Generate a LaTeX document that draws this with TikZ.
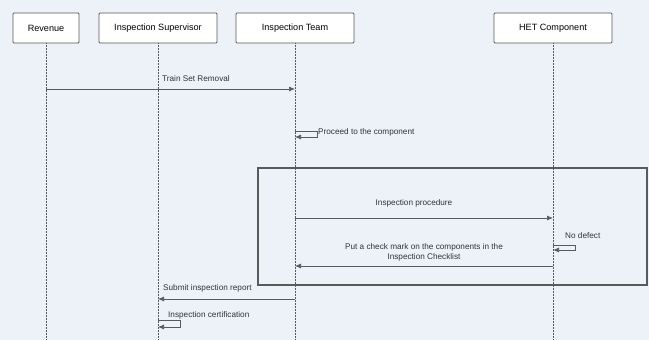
\documentclass[tikz,border=0pt]{standalone}
\usepackage{fontspec}
\setmainfont{Liberation Sans}
\usetikzlibrary{arrows.meta}
\definecolor{bgblue}{RGB}{237,241,248}
\definecolor{linegray}{RGB}{90,90,90}
\tikzset{
  actor/.style={draw=linegray, line width=0.9pt, fill=white, rounded corners=1pt,
    minimum height=30pt, inner sep=0pt, font=\fontsize{9.1}{11}\selectfont},
  lifeline/.style={densely dotted, linegray, line width=0.5pt},
  msg/.style={-{Latex[length=6pt,width=5pt]}, linegray, line width=0.7pt},
  lbl/.style={font=\fontsize{8.2}{9}\selectfont, text=black!80, inner sep=1pt}
}
\begin{document}
\begin{tikzpicture}[x=1pt,y=-1pt]
    % background
    \fill[bgblue] (0,0) rectangle (649,340);
    \useasboundingbox (0,0) rectangle (649,340);
    % actors
    \node[actor, minimum width=66pt] (rev) at (46,28) {Revenue};
    \node[actor, minimum width=118pt] (sup) at (158,28) {Inspection Supervisor};
    \node[actor, minimum width=118pt] (team) at (295,28) {Inspection Team};
    \node[actor, minimum width=118pt] (het) at (553,28) {HET Component};
    % lifelines
    \coordinate (revend) at (46,340);
    \coordinate (supend) at (158,340);
    \coordinate (teamend) at (295,340);
    \coordinate (hetend) at (553,340);
    \draw[lifeline] (rev.south) -- (revend);
    \draw[lifeline] (sup.south) -- (supend);
    \draw[lifeline] (team.south) -- (teamend);
    \draw[lifeline] (het.south) -- (hetend);
    % combined fragment
    \draw[linegray, line width=1.1pt] (258,168) rectangle (647,285);
    % train set removal
    \coordinate (rev1) at (46,89);
    \coordinate (team1) at (295,89);
    \draw[msg] (rev1) -- (team1);
    \node[lbl, anchor=west] (trainlbl) at (161,79) {Train Set Removal};
    % proceed to the component
    \coordinate (team2) at (295,131);
    \coordinate (team2b) at (295,137);
    \draw[msg] (team2) -- ++(22,0) |- (team2b);
    \node[lbl, anchor=west] (proclbl) at (317,132) {Proceed to the component};
    % inspection procedure
    \coordinate (team3) at (295,218);
    \coordinate (het3) at (553,218);
    \draw[msg] (team3) -- (het3);
    \node[lbl] (inslbl) at (414,203) {Inspection procedure};
    % no defect
    \coordinate (het4) at (553,245);
    \coordinate (het4b) at (553,250);
    \draw[msg] (het4) -- ++(22,0) |- (het4b);
    \node[lbl, anchor=west] (nodeflbl) at (564,236) {No defect};
    % check mark
    \coordinate (het5) at (553,266);
    \coordinate (team5) at (295,266);
    \draw[msg] (het5) -- (team5);
    \node[lbl, align=center, font=\fontsize{8.2}{10}\selectfont] (checklbl) at (424,252)
      {Put a check mark on the components in the\\Inspection Checklist};
    % submit inspection report
    \coordinate (team6) at (295,299);
    \coordinate (sup6) at (158,299);
    \draw[msg] (team6) -- (sup6);
    \node[lbl, anchor=west] (sublbl) at (162,288) {Submit inspection report};
    % inspection certification
    \coordinate (sup7) at (158,320);
    \coordinate (sup7b) at (158,327);
    \draw[msg] (sup7) -- ++(22,0) |- (sup7b);
    \node[lbl, anchor=west] (certlbl) at (167,315) {Inspection certification};
\end{tikzpicture}
\end{document}
